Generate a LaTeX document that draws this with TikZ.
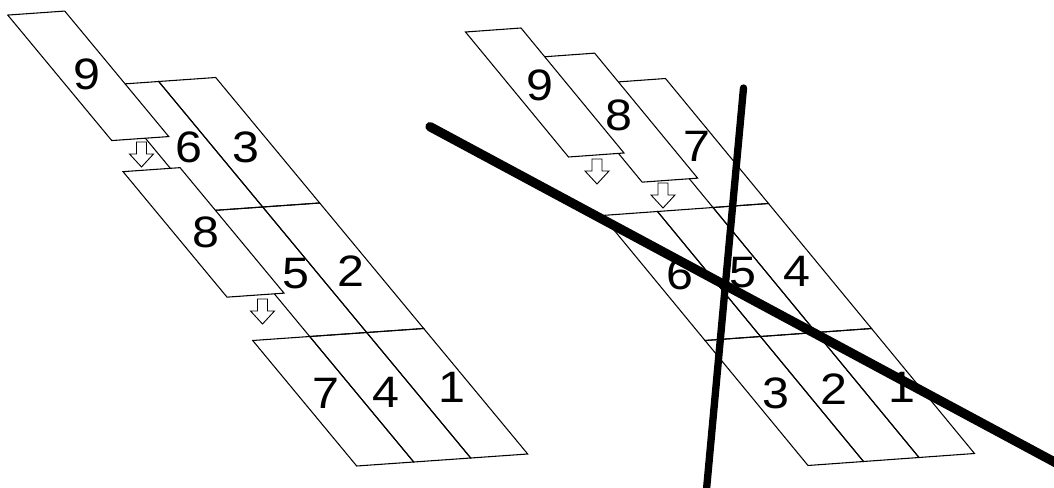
\documentclass[tikz,border=0pt]{standalone}
\usepackage{fontspec}
\setmainfont{Liberation Sans}

\tikzset{
  gridcell/.style={draw, line width=0.8pt, line join=miter},
  movedcell/.style={gridcell, fill=white},
  droparrow/.style={draw, line width=0.7pt, fill=white},
  numlabel/.style={inner sep=0pt, xscale=1.1, font=\fontsize{33pt}{38pt}\selectfont},
  cutline/.style={line cap=round},
}

\begin{document}
\begin{tikzpicture}[x=0.75pt, y=-0.75pt]
\useasboundingbox (0,0) rectangle (1054,488);
\clip (0,0) rectangle (1054,488);

% Left: column 9-8-7, cells 9 and 8 lifted out
\begin{scope}[shift={(356.7,466)}, x={(42.75pt,3pt)}, y={(-78pt,94.125pt)}]
  \foreach \i/\j in {0/0,1/0,2/0,1/1,2/1,1/2,2/2}
    \draw[gridcell] (\i,\j) -- ++(1,0) -- ++(0,1) -- ++(-1,0) -- cycle;
  \draw[movedcell] (0.17,1.34) -- ++(1,0) -- ++(0,1) -- ++(-1,0) -- cycle;
  \draw[movedcell] (0.41,2.58) -- ++(1,0) -- ++(0,1) -- ++(-1,0) -- cycle;
  \foreach \n/\a/\b in {7/0.48/0.56, 4/1.5/0.54, 1/2.66/0.54,
                        5/1.64/1.48, 2/2.58/1.47, 6/1.6/2.49,
                        3/2.55/2.46, 8/0.71/1.84, 9/0.9/3.09}
    \node[numlabel] (l\n) at (\a,\b) {\n};
\end{scope}

% Right: row 9-8-7, cells 9 and 8 lifted out
\begin{scope}[shift={(808,465.5)}, x={(41.625pt,3pt)}, y={(-77.25pt,93.75pt)}]
  \foreach \i/\j in {0/0,1/0,2/0,0/1,1/1,2/1,2/2}
    \draw[gridcell] (\i,\j) -- ++(1,0) -- ++(0,1) -- ++(-1,0) -- cycle;
  \draw[movedcell] (1.15,2.23) -- ++(1,0) -- ++(0,1) -- ++(-1,0) -- cycle;
  \draw[movedcell] (0.25,2.46) -- ++(1,0) -- ++(0,1) -- ++(-1,0) -- cycle;
  \foreach \n/\a/\b in {3/0.46/0.56, 2/1.51/0.56, 1/2.69/0.54,
                        6/0.5/1.51, 5/1.59/1.49, 4/2.53/1.47,
                        7/2.58/2.47, 8/1.7/2.75, 9/0.77/3.02}
    \node[numlabel] (r\n) at (\a,\b) {\n};
\end{scope}

% Hollow arrows under the lifted cells
\foreach \ax/\ay in {141.5/142, 262.5/299, 597/159, 663/183}
  \draw[droparrow] (\ax,\ay) ++(-5,0) -- ++(10,0) -- ++(0,12) -- ++(7,0)
    -- ++(-12,13) -- ++(-12,-13) -- ++(7,0) -- cycle;

% Two cutting lines
\coordinate (a1) at (430,126.7);
\coordinate (a2) at (1070,470.4);
\coordinate (b1) at (743.5,88);
\coordinate (b2) at (706,495);
\draw[cutline, line width=7pt] (a1) -- (a2);
\draw[cutline, line width=5.5pt] (b1) -- (b2);
\end{tikzpicture}
\end{document}
